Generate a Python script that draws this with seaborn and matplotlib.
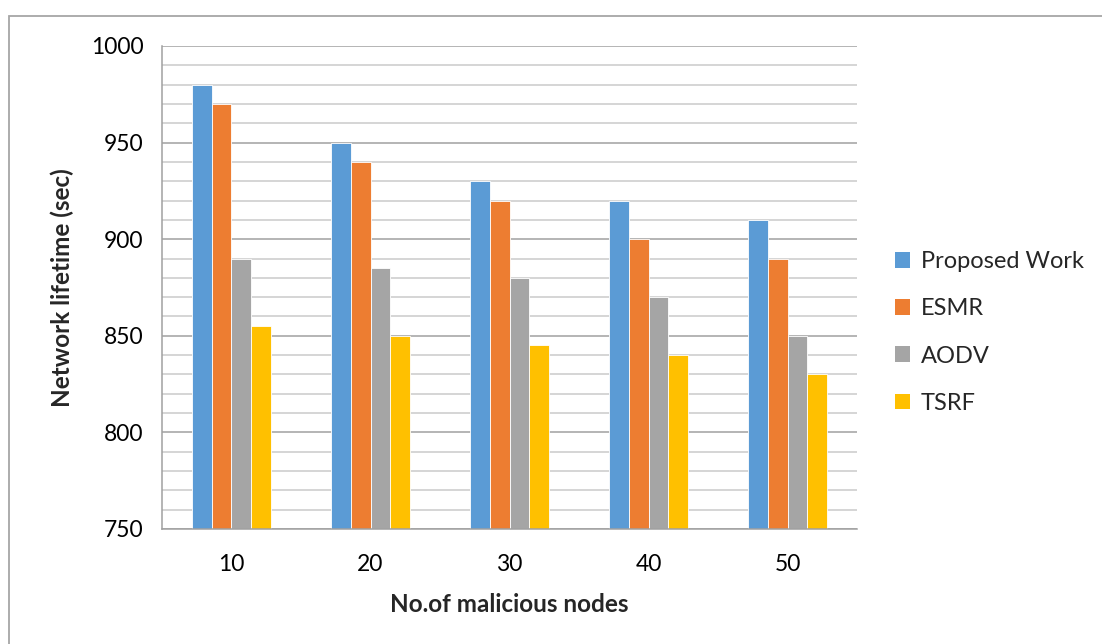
import matplotlib
matplotlib.use("Agg")
import matplotlib.pyplot as plt
from matplotlib.patches import Patch, Rectangle
from matplotlib.ticker import MultipleLocator
import seaborn as sns
import pandas as pd

# Network lifetime (sec) per number of malicious nodes
malicious_nodes = ["10", "20", "30", "40", "50"]
proposed_work = [980, 950, 930, 920, 910]
esmr = [970, 940, 920, 900, 890]
aodv = [890, 885, 880, 870, 850]
tsrf = [855, 850, 845, 840, 830]

series_names = ["Proposed Work", "ESMR", "AODV", "TSRF"]
series_values = [proposed_work, esmr, aodv, tsrf]
palette = ["#5B9BD5", "#ED7D31", "#A5A5A5", "#FFC000"]

rows = []
for name, vals in zip(series_names, series_values):
    for cat, v in zip(malicious_nodes, vals):
        rows.append({"nodes": cat, "lifetime": v, "method": name})
df = pd.DataFrame(rows)

sns.set_theme(style="white")
plt.rcParams["font.family"] = ["Lato", "DejaVu Sans"]

fig = plt.figure(figsize=(11.02, 6.44), dpi=100)
ax = fig.add_axes([0.1470, 0.1786, 0.6307, 0.7500])

sns.barplot(data=df, x="nodes", y="lifetime", hue="method",
            order=malicious_nodes, hue_order=series_names,
            palette=palette, width=0.57, gap=0, ax=ax,
            edgecolor="white", linewidth=0.6, saturation=1,
            legend=False, errorbar=None)

ax.set_ylim(750, 1000)
ax.set_xlim(-0.5, 4.5)
ax.yaxis.set_major_locator(MultipleLocator(50))
ax.yaxis.set_minor_locator(MultipleLocator(10))
ax.grid(axis="y", which="major", color="#a0a0a0", linewidth=1.1, zorder=0)
ax.grid(axis="y", which="minor", color="#cacaca", linewidth=1.1, zorder=0)
ax.set_axisbelow(True)

for side in ["top", "right"]:
    ax.spines[side].set_visible(False)
for side in ["left", "bottom"]:
    ax.spines[side].set_color("#a0a0a0")
    ax.spines[side].set_linewidth(1.1)

ax.tick_params(axis="y", which="major", length=6.5, width=1.1, color="#a0a0a0",
               direction="out", labelsize=16.5, pad=7, labelcolor="black")
ax.tick_params(axis="y", which="minor", length=0)
ax.tick_params(axis="x", length=0, labelsize=16.5, pad=18, labelcolor="black")

ax.set_xlabel("No.of malicious nodes", fontsize=17.5, fontweight="bold", labelpad=13)
ax.set_ylabel("Network lifetime (sec)", fontsize=17.5, fontweight="bold", labelpad=12)

handles = [Patch(facecolor=c, edgecolor="none") for c in palette]
fig.legend(handles, series_names, loc="center left",
           bbox_to_anchor=(0.7925, 0.4837), frameon=False, fontsize=17,
           handlelength=0.65, handleheight=0.65, handletextpad=0.45,
           labelspacing=1.11)

# Outer chart frame
fig.add_artist(Rectangle((9 / 1102, -0.1), 1.2, 1 - 16 / 644 + 0.1,
                         transform=fig.transFigure, fill=False,
                         edgecolor="#a6a6a6", linewidth=1.3))

fig.savefig("out.png", dpi=100, facecolor="white")
